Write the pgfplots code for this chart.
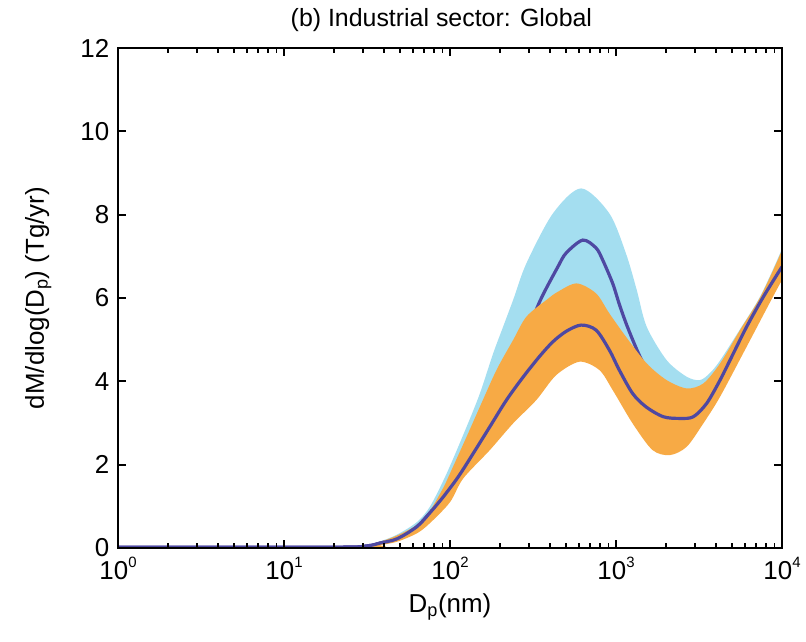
\documentclass[border=0pt]{standalone}
\usepackage{pgfplots}
\pgfplotsset{compat=1.18}
\usepackage{fontspec}
\setmainfont{Liberation Sans}
\definecolor{bandblue}{RGB}{164,222,240}
\definecolor{bandorange}{RGB}{247,170,69}
\definecolor{linepurple}{RGB}{78,72,162}
\newcommand{\tenp}[1]{10\raisebox{0.9ex}{\fontsize{15}{15}\selectfont #1}}
\begin{document}
\fontsize{26}{30}\selectfont
\begin{tikzpicture}
\useasboundingbox (0,0) rectangle (806bp,642bp);
\begin{axis}[
  at={(118bp,94bp)}, anchor=south west,
  scale only axis, width=664bp, height=500bp,
  xmode=log, xmin=1, xmax=10000, ymin=0, ymax=12,
  ytick={0,2,4,6,8,10,12},
  xtick={1,10,100,1000,10000},
  xticklabels={\tenp{0},\tenp{1},\tenp{2},\tenp{3},\tenp{4}},
  /pgf/number format/assume math mode=true,
  tick align=inside, major tick length=8bp, minor tick length=5bp,
  axis line style={line width=2.5bp},
  every tick/.style={line width=1.8bp, black},
  axis on top,
  tick label style={font=\fontsize{26}{30}\selectfont},
  title={(b) Industrial sector: Global},
  title style={font=\fontsize{25}{30}\selectfont, at={(axis description cs:0.487,1)}, yshift=2bp},
  xlabel={D\textsubscript{p}(nm)},
  xlabel style={font=\fontsize{26}{30}\selectfont, at={(axis description cs:0.5,-0.118)}, anchor=center},
  ylabel={dM/dlog(D\textsubscript{p}) (Tg/yr)},
  ylabel style={font=\fontsize{26}{30}\selectfont, at={(axis description cs:-0.12,0.5)}, anchor=center},
]
% blue (upper) band: top edge, then bottom edge backwards
\addplot[fill=bandblue, draw=none, smooth, tension=0.5] coordinates {
(0.8,0.02) (1,0.02) (20,0.03) (31.6,0.07) (38,0.16) (47.9,0.32) (63.1,0.62) (75.9,1.0)
(95.5,1.79) (125.9,2.91) (151.4,3.71) (182,4.67) (208.9,5.31) (239.9,5.95) (288.4,6.83)
(416.9,8.03) (616.6,8.63)
(912,8.03) (1148,7.07) (1334,6.19) (1531,5.31) (2018,4.51) (2667,4.11) (3206,4.03)
(3681,4.2) (4236,4.5) (5585,5.25) (7413,6.05) (10000,7.18) (12500,8.2)
(12500,7.6) (10000,6.75) (7727,6.03) (6124,5.31) (5093,4.67) (4236,4.03) (3516,3.47) (2924,3.15)
(2432,3.11) (1928,3.15) (1514,3.39) (1259,3.71) (1047,4.27) (912,4.75) (758.6,5.23)
(616.6,5.35) (501.2,5.2) (416.9,4.95) (346.7,4.6) (275.4,4.1) (218.8,3.55) (173.8,2.91) (138,2.27)
(112.2,1.71) (91.2,1.23) (75.9,0.85) (63.1,0.51) (47.9,0.22)
(38,0.12) (31.6,0.05) (20,0.02) (1,0.02) (0.8,0.02)
};
% upper line
\addplot[line width=3.2bp, linepurple, smooth, tension=0.5] coordinates {
(1,0.02) (20,0.02) (31.6,0.05) (38,0.12) (47.9,0.22) (63.1,0.51) (75.9,0.85) (91.2,1.23)
(112.2,1.71) (138,2.35) (173.8,3.1) (218.8,3.95) (275.4,4.9) (346.7,5.91) (446.7,6.75)
(501.2,7.08) (631,7.39) (758.6,7.2)
(831.8,6.91) (955,6.35) (1047,5.85) (1148,5.4) (1259,5.0) (1396,4.59) (1660,4.0)
(1928,3.6) (2432,3.3) (2924,3.25) (3516,3.5) (4236,4.03) (5093,4.67) (6124,5.31)
(7727,6.03) (10000,6.75)
};
% orange (lower) band: top edge, then bottom edge backwards
\addplot[fill=bandorange, draw=none, smooth, tension=0.5] coordinates {
(0.8,0.03) (1,0.03) (20,0.03) (31.6,0.07) (38,0.15) (47.9,0.3) (63.1,0.55) (75.9,0.9) (91.2,1.45)
(100,1.79) (125.9,2.67) (151.4,3.39) (190.5,4.27) (239.9,4.99) (288.4,5.55) (380.2,5.95)
(446.7,6.15) (579.4,6.35) (758.6,6.11) (912,5.63) (1148,5.07) (1531,4.43) (2018,4.03)
(2667,3.83) (3357,3.95) (4236,4.43) (5585,5.23) (7413,6.03) (10000,7.15) (12500,8.2)
(12500,7.0) (10000,6.43) (6124,4.83) (4236,3.63) (3357,2.99) (2667,2.43) (2113,2.23) (1660,2.35)
(1259,2.99) (955,3.79) (794.3,4.27) (602.6,4.47) (436.5,4.15) (331.1,3.55) (239.9,2.99)
(173.8,2.35) (120.2,1.67) (100,1.1) (75.9,0.6) (63.1,0.35) (47.9,0.15) (38,0.07)
(31.6,0.02) (1,0.0) (0.8,0.0)
};
% lower line
\addplot[line width=3.2bp, linepurple, smooth, tension=0.5] coordinates {
(1,0.02) (20,0.02) (31.6,0.05) (38,0.12) (47.9,0.22) (63.1,0.51) (75.9,0.85) (91.2,1.23)
(112.2,1.71) (138,2.27) (173.8,2.91) (218.8,3.55) (275.4,4.1) (346.7,4.6) (416.9,4.95)
(501.2,5.2) (616.6,5.35) (758.6,5.23) (912,4.75) (1047,4.27) (1259,3.71)
(1514,3.39) (1928,3.15) (2432,3.11) (2924,3.15) (3516,3.47) (4236,4.03) (5093,4.67)
(6124,5.31) (7727,6.03) (10000,6.75)
};
\end{axis}
\end{tikzpicture}
\end{document}
